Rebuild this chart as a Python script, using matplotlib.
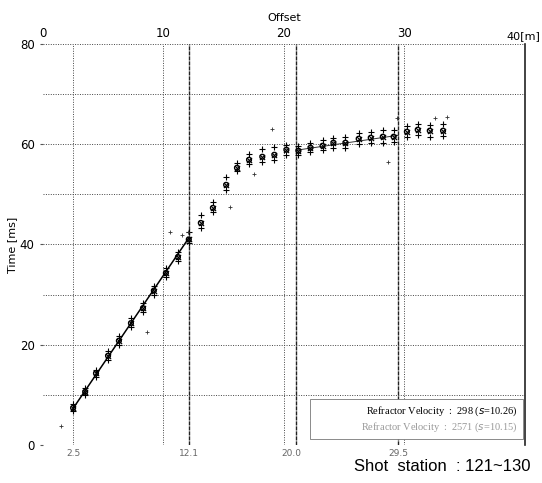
import matplotlib
matplotlib.use("Agg")
import matplotlib.pyplot as plt
from matplotlib.patches import Rectangle

# ---- data ----
offsets = [2.5, 3.5, 4.4, 5.4, 6.3, 7.3, 8.3, 9.2, 10.2, 11.2, 12.1,
           13.1, 14.1, 15.2, 16.1, 17.1, 18.2, 19.2, 20.2, 21.2, 22.2,
           23.2, 24.1, 25.1, 26.2, 27.2, 28.2, 29.1, 30.2, 31.1, 32.1, 33.2]
t_main = [7.4, 10.6, 14.3, 17.8, 20.8, 24.3, 27.3, 30.8, 34.3, 37.5, 41.0,
          44.3, 47.3, 51.9, 55.3, 56.9, 57.5, 57.9, 58.9, 58.7, 59.3,
          59.7, 60.3, 60.3, 61.1, 61.3, 61.5, 61.5, 62.5, 62.9, 62.7, 62.7]
t_upper = [8.2, 11.3, 15.0, 18.8, 21.8, 25.4, 28.3, 31.8, 35.3, 38.5, 42.5,
           45.8, 48.5, 53.5, 56.3, 58.0, 59.0, 59.5, 59.8, 59.6, 60.2,
           60.8, 61.2, 61.5, 62.3, 62.5, 62.8, 62.9, 63.6, 64.0, 63.8, 64.0]
t_lower = [6.8, 10.0, 13.6, 17.0, 20.0, 23.5, 26.5, 30.0, 33.5, 36.8, 40.3,
           43.3, 46.5, 50.8, 54.6, 56.0, 56.5, 56.9, 57.9, 57.8, 58.4,
           58.8, 59.2, 59.3, 60.0, 60.3, 60.3, 60.4, 61.4, 61.8, 61.5, 61.7]
x_out = [1.5, 8.6, 10.5, 11.5, 12.0, 15.5, 17.5, 19.0, 28.6, 29.4, 32.5, 33.5]
t_out = [3.8, 22.5, 42.5, 41.8, 42.5, 47.5, 54.0, 63.0, 56.5, 65.3, 65.3, 65.5]

direct_x = [2.5, 12.1]
direct_t = [7.3, 41.3]
refr_x = [21.0, 29.5]
refr_t = [58.8, 61.8]

top_ticks = [0, 10, 20, 30]
top_labels = ["0", "10", "20", "30"]
y_ticks = [0, 20, 40, 60, 80]
station_x = [2.5, 12.1, 20.6, 29.5]
station_labels = ["2.5", "12.1", "20.0", "29.5"]
break_lines = [12.1, 21.0, 29.5]
legend_lines = ["Refractor Velocity  :  298 ($s$=10.26)",
                "Refractor Velocity  :  2571 ($s$=10.15)"]
title_text = "Shot  station  : 121~130"

# ---- figure ----
fig = plt.figure(figsize=(5.42, 4.83), dpi=100)
ax = fig.add_axes([0.0793, 0.0787, 0.8893, 0.8302])
ax.set_xlim(0, 40)
ax.set_ylim(0, 80)

for s in ["left", "bottom", "top"]:
    ax.spines[s].set_visible(False)
ax.spines["right"].set_linewidth(1.2)
ax.spines["right"].set_color("#222222")

# grid
for yv in range(0, 90, 10):
    ax.axhline(yv, color="#444444", lw=0.7, ls=(0, (1, 1.5)), zorder=1)
for xv in [2.5, 10, 20, 30]:
    ax.axvline(xv, color="#444444", lw=0.7, ls=(0, (1, 1.5)), zorder=1)
for xv in break_lines:
    ax.axvline(xv, color="#222222", lw=1.0, ls=(0, (3, 0.6)), zorder=1)

# lines
ax.plot(direct_x, direct_t, color="black", lw=1.1, zorder=3)
ax.plot(refr_x, refr_t, color="#333333", lw=0.7, zorder=3)

# points
ax.scatter(offsets, t_upper, marker="+", s=18, color="black", lw=0.8, zorder=4)
ax.scatter(offsets, t_lower, marker="+", s=18, color="black", lw=0.8, zorder=4)
ax.scatter(offsets, t_main, marker="o", s=12, facecolor="none",
           edgecolor="black", lw=1.0, zorder=5)
ax.scatter(offsets, t_main, marker="x", s=14, color="black", lw=0.8, zorder=5)
ax.scatter(x_out, t_out, marker="+", s=10, color="#333333", lw=0.6, zorder=4)

# axes ticks
ax.xaxis.tick_top()
ax.set_xticks(top_ticks)
ax.set_xticklabels(top_labels, fontsize=8.5)
ax.tick_params(axis="x", length=0, pad=3)
fig.text(0.996, 0.915, "40[m]", ha="right", va="bottom", fontsize=8)
ax.xaxis.set_label_position("top")
ax.set_xlabel("Offset", fontsize=8, labelpad=4)

ax.set_yticks(y_ticks)
ax.set_yticklabels([str(v) for v in y_ticks], fontsize=8.5)
ax.tick_params(axis="y", length=2, pad=4, color="#555555")
ax.set_ylabel("Time [ms]", fontsize=8, labelpad=2)

# station labels under the axis
for xs, lab in zip(station_x, station_labels):
    ax.annotate(lab, xy=(xs, 0), xycoords="data", xytext=(0, -3),
                textcoords="offset points", ha="center", va="top",
                fontsize=6.5, color="#666666", annotation_clip=False)

# legend box
ax.add_patch(Rectangle((0.555, 0.015), 0.44, 0.1, transform=ax.transAxes,
                       facecolor="white", edgecolor="#777777", lw=0.6, zorder=6))
ax.text(0.985, 0.085, legend_lines[0], transform=ax.transAxes, ha="right",
        va="center", fontsize=7.5, family="Liberation Serif", color="black",
        zorder=7)
ax.text(0.985, 0.045, legend_lines[1], transform=ax.transAxes, ha="right",
        va="center", fontsize=7.5, family="Liberation Serif", color="#999999",
        zorder=7)

fig.text(0.978, 0.035, title_text, ha="right", va="center", fontsize=12,
         family="Liberation Sans")

fig.savefig("out.png", dpi=100, facecolor="white")
